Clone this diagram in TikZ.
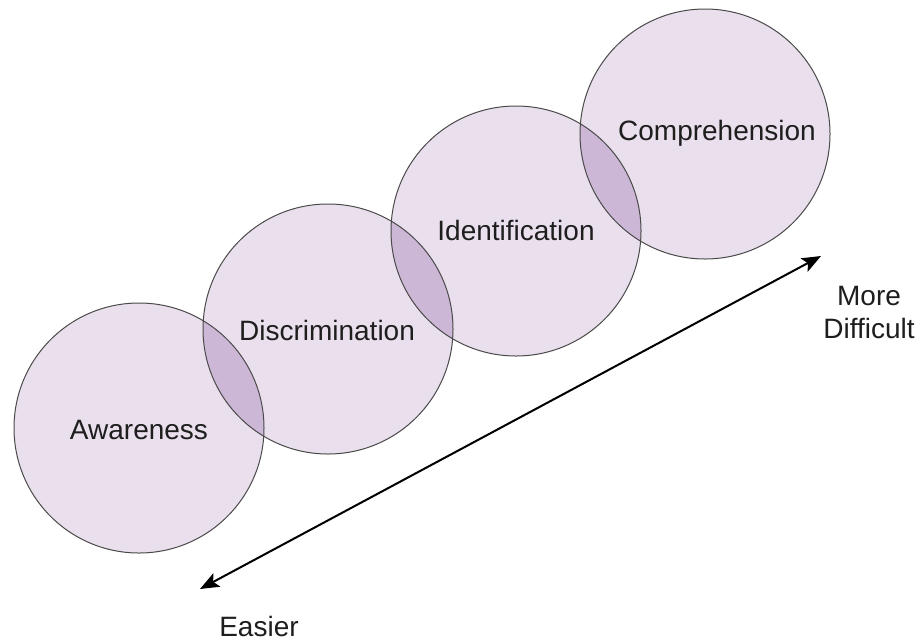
\documentclass[tikz,border=0pt]{standalone}
\usepackage{fontspec}
\setmainfont{Liberation Sans}
\usetikzlibrary{arrows.meta}
\definecolor{lightfill}{HTML}{EADFEC}
\definecolor{overlapfill}{HTML}{CDB7D6}
\definecolor{rimcol}{HTML}{4A4A4A}
\definecolor{txtcol}{HTML}{1E1E1E}
\tikzset{
  stagecirc/.style={circle, minimum size=250pt, inner sep=0pt, fill=lightfill, draw=rimcol, line width=1pt, font=\fontsize{28}{30}\selectfont, text=txtcol},
  sidelabel/.style={font=\fontsize{28}{33}\selectfont, text=txtcol, align=center, inner sep=0pt},
  scalearrow/.style={line width=2pt, {Stealth[length=19pt,width=15pt,inset=4pt]}-{Stealth[length=19pt,width=15pt,inset=4pt]}}
}
\begin{document}
\begin{tikzpicture}[x=1pt,y=-1pt]
\useasboundingbox (0,0) rectangle (920,641);
\fill[white] (0,0) rectangle (920,641);
% fills
\node[stagecirc, draw=none] (aw) at (139,428) {};
\node[stagecirc, draw=none] (di) at (328,329) {};
\node[stagecirc, draw=none] (id) at (516,231) {};
\node[stagecirc, draw=none] (co) at (705,134) {};
% overlaps
\begin{scope}
  \clip (139,428) circle (125);
  \fill[overlapfill] (328,329) circle (125);
\end{scope}
\begin{scope}
  \clip (328,329) circle (125);
  \fill[overlapfill] (516,231) circle (125);
\end{scope}
\begin{scope}
  \clip (516,231) circle (125);
  \fill[overlapfill] (705,134) circle (125);
\end{scope}
% outlines and labels
\node[stagecirc, fill=none] (awl) at (aw) {};
\node[stagecirc, fill=none] (dil) at (di) {};
\node[stagecirc, fill=none] (idl) at (id) {};
\node[stagecirc, fill=none] (col) at (co) {};
\node[sidelabel] (awt) at (139,430) {Awareness};
\node[sidelabel] (dit) at (327,330) {Discrimination};
\node[sidelabel] (idt) at (516,230) {Identification};
\node[sidelabel] (cot) at (717,133) {Comprehension};
% arrow
\coordinate (easyend) at (200,589);
\coordinate (hardend) at (821,256);
\draw[scalearrow] (easyend) -- (hardend);
\node[sidelabel] (hard) at (869,312) {More\\Difficult};
\node[font=\fontsize{28}{33}\selectfont, text=txtcol, inner sep=0pt] (easy) at (259,626) {Easier};
\end{tikzpicture}
\end{document}
